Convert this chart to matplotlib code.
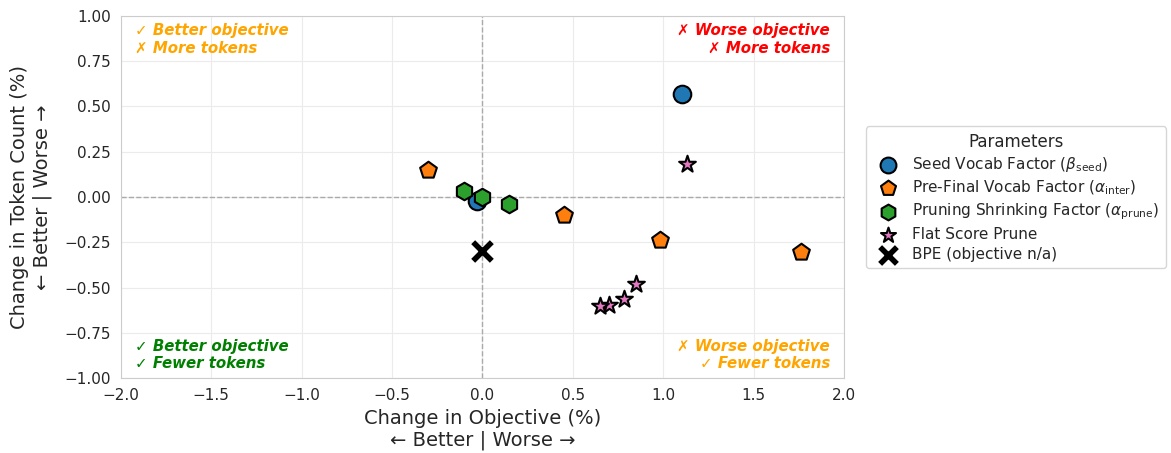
import numpy as np
import matplotlib.pyplot as plt
import seaborn as sns

sns.set_style("whitegrid")
plt.rcParams['font.family'] = ['DejaVu Sans']

# data (change in objective %, change in token count %)
seed_x = [1.105, -0.03]
seed_y = [0.57, -0.02]
inter_x = [-0.30, 0.45, 0.98, 1.76]
inter_y = [0.15, -0.10, -0.235, -0.305]
prune_x = [-0.10, 0.0, 0.145]
prune_y = [0.036, 0.003, -0.04]
flat_x = [1.13, 0.85, 0.78, 0.70, 0.65]
flat_y = [0.18, -0.48, -0.565, -0.595, -0.60]
bpe_x = [0.0]
bpe_y = [-0.30]

fig, ax = plt.subplots(figsize=(11.71, 4.53), dpi=100)

ax.axhline(0, color='#aaaaaa', ls='--', lw=1, zorder=1)
ax.axvline(0, color='#aaaaaa', ls='--', lw=1, zorder=1)

ax.scatter(seed_x, seed_y, s=160, marker='o', color='#1f77b4', edgecolor='black', linewidth=1.5,
           label=r'Seed Vocab Factor ($\beta_{\mathrm{seed}}$)', zorder=3)
ax.scatter(inter_x, inter_y, s=160, marker='p', color='#ff7f0e', edgecolor='black', linewidth=1.5,
           label=r'Pre-Final Vocab Factor ($\alpha_{\mathrm{inter}}$)', zorder=3)
ax.scatter(prune_x, prune_y, s=160, marker='h', color='#2ca02c', edgecolor='black', linewidth=1.5,
           label=r'Pruning Shrinking Factor ($\alpha_{\mathrm{prune}}$)', zorder=3)
ax.scatter(flat_x, flat_y, s=160, marker='*', color='#e377c2', edgecolor='black', linewidth=1.5,
           label='Flat Score Prune', zorder=3)
ax.scatter(bpe_x, bpe_y, s=180, marker='x', color='black', linewidths=4,
           label='BPE (objective n/a)', zorder=3)

ax.set_xlim(-2, 2)
ax.set_ylim(-1, 1)
ax.set_xticks(np.arange(-2, 2.01, 0.5))
ax.set_yticks(np.arange(-1, 1.01, 0.25))
ax.set_xticklabels([f'{v:.1f}'.replace('-', '\u2212') for v in np.arange(-2, 2.01, 0.5)])
ax.set_yticklabels([f'{v:.2f}'.replace('-', '\u2212') for v in np.arange(-1, 1.01, 0.25)])
ax.tick_params(labelsize=11)
ax.set_xlabel('Change in Objective (%)\n\u2190 Better | Worse \u2192', fontsize=14)
ax.set_ylabel('Change in Token Count (%)\n\u2190 Better | Worse \u2192', fontsize=14, labelpad=9)
ax.grid(True, color='#ebebeb')
for sp in ax.spines.values():
    sp.set_color('#cccccc')

kw = dict(transform=ax.transAxes, fontsize=10.8, fontweight='bold', style='italic')
ax.text(0.02, 0.98, '\u2713 Better objective\n\u2717 More tokens', ha='left', va='top', color='orange', **kw)
ax.text(0.98, 0.98, '\u2717 Worse objective\n\u2717 More tokens', ha='right', va='top', color='red', multialignment='right', **kw)
ax.text(0.02, 0.02, '\u2713 Better objective\n\u2713 Fewer tokens', ha='left', va='bottom', color='green', **kw)
ax.text(0.98, 0.02, '\u2717 Worse objective\n\u2713 Fewer tokens', ha='right', va='bottom', color='orange', multialignment='right', **kw)

leg = ax.legend(title='Parameters', loc='center left', bbox_to_anchor=(1.02, 0.5), fontsize=11,
                title_fontsize=12, markerscale=0.9, labelspacing=0.3, handletextpad=0.6)

fig.subplots_adjust(left=0.103, right=0.721, top=0.965, bottom=0.165)
fig.savefig('out.png')
